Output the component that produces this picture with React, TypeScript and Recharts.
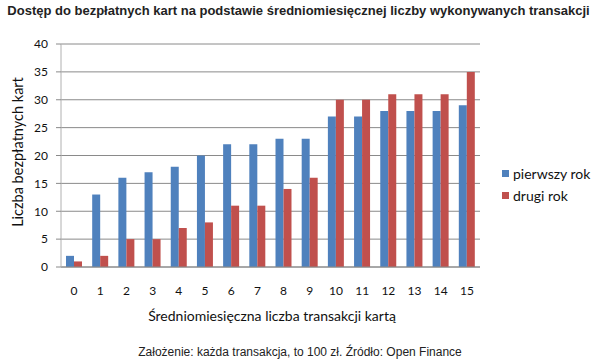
import React from "react";
import { BarChart, Bar, XAxis, YAxis, CartesianGrid } from "recharts";

const categories = ["0","1","2","3","4","5","6","7","8","9","10","11","12","13","14","15"];
const pierwszyRok = [2, 13, 16, 17, 18, 20, 22, 22, 23, 23, 27, 27, 28, 28, 28, 29];
const drugiRok = [1, 2, 5, 5, 7, 8, 11, 11, 14, 16, 30, 30, 31, 31, 31, 35];
const yTicks = [0, 5, 10, 15, 20, 25, 30, 35, 40];

const data = categories.map((c, i) => ({ name: c, p: pierwszyRok[i], d: drugiRok[i] }));

const BLUE = "#4F81BD";
const RED = "#C0504D";
const LABEL_FONT = "Lato, 'Open Sans', sans-serif";

export default function App() {
  return (
    <div style={{ position: "absolute", left: 0, top: 0, width: 597, height: 359, background: "#fff", overflow: "hidden" }}>
      <div style={{ position: "absolute", left: 0, top: 3, width: 597, textAlign: "center", fontFamily: "'Liberation Sans', Arial, sans-serif", fontWeight: "bold", fontSize: 13, color: "#222", whiteSpace: "nowrap" }}>
        Dostęp do bezpłatnych kart na podstawie średniomiesięcznej liczby wykonywanych transakcji
      </div>
      <div style={{ position: "absolute", left: 0, top: 0 }}>
        <BarChart width={597} height={359} data={data} margin={{ top: 44, right: 117, bottom: 62, left: 21 }} barGap={0} barSize={8}>
          <CartesianGrid vertical={false} stroke="#8a8a8a" />
          <XAxis dataKey="name" height={30} axisLine={{ stroke: "#8a8a8a" }} tickLine={false} tickSize={0} tickMargin={19} tick={{ fontFamily: LABEL_FONT, fontSize: 12, fill: "#111" }} interval={0} />
          <YAxis width={40} domain={[0, 40]} ticks={yTicks} axisLine={{ stroke: "#b0b0b0" }} tickLine={{ stroke: "#8a8a8a" }} tickSize={5} tickMargin={8} tick={{ fontFamily: LABEL_FONT, fontSize: 12, fill: "#111" }} interval={0} />
          <Bar dataKey="p" fill={BLUE} isAnimationActive={false} />
          <Bar dataKey="d" fill={RED} isAnimationActive={false} />
        </BarChart>
      </div>
      <div style={{ position: "absolute", left: 17, top: 152, transform: "translate(-50%, -50%) rotate(-90deg)", fontFamily: LABEL_FONT, fontSize: 14.5, color: "#111", whiteSpace: "nowrap" }}>
        Liczba bezpłatnych kart
      </div>
      <div style={{ position: "absolute", left: 272, top: 315, transform: "translate(-50%, -50%)", fontFamily: LABEL_FONT, fontSize: 14, color: "#111", whiteSpace: "nowrap" }}>
        Średniomiesięczna liczba transakcji kartą
      </div>
      <div style={{ position: "absolute", left: 300, top: 352, transform: "translate(-50%, -50%)", fontFamily: "'Liberation Sans', Arial, sans-serif", fontSize: 12, color: "#222", whiteSpace: "nowrap" }}>
        Założenie: każda transakcja, to 100 zł. Źródło: Open Finance
      </div>
      <div style={{ position: "absolute", left: 502, top: 165, fontFamily: LABEL_FONT, fontSize: 14, color: "#111" }}>
        <div style={{ display: "flex", alignItems: "center", height: 16, marginBottom: 6 }}>
          <span style={{ display: "inline-block", width: 7, height: 7, background: BLUE, marginRight: 4 }} />
          <span>pierwszy rok</span>
        </div>
        <div style={{ display: "flex", alignItems: "center", height: 16 }}>
          <span style={{ display: "inline-block", width: 7, height: 7, background: RED, marginRight: 4 }} />
          <span>drugi rok</span>
        </div>
      </div>
    </div>
  );
}
